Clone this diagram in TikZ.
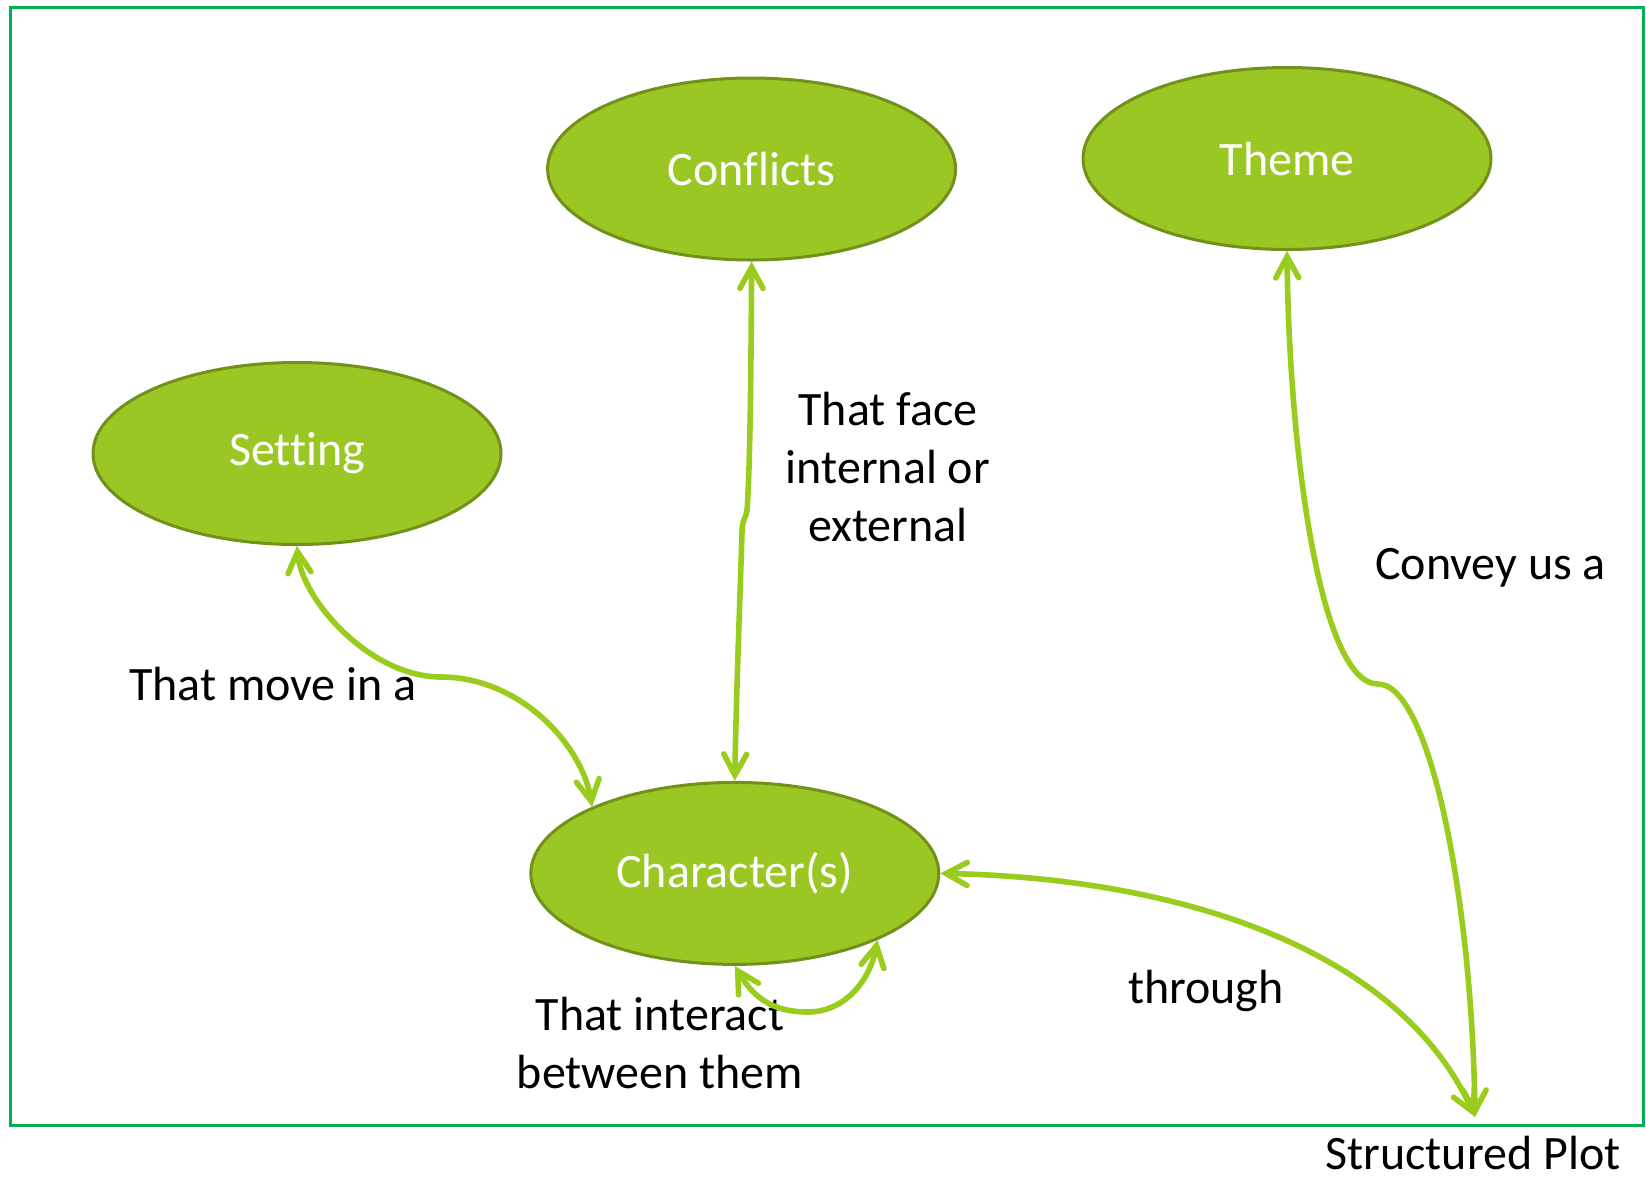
\documentclass[tikz,border=0pt]{standalone}
\usepackage{fontspec}
\setmainfont[RawFeature={-liga,-clig,-dlig}]{Carlito}
\usetikzlibrary{shapes.geometric,arrows.meta}
\definecolor{bubblefill}{RGB}{154,199,35}
\definecolor{bubbleline}{RGB}{114,145,26}
\definecolor{linkgreen}{RGB}{154,204,30}
\definecolor{framegreen}{RGB}{0,176,80}
\tikzset{
  bubble/.style={ellipse, draw=bubbleline, line width=1.5pt, fill=bubblefill,
    minimum width=204pt, minimum height=91pt, inner sep=0pt,
    text=white, font=\fontsize{24}{29}\selectfont},
  caption/.style={align=center, inner sep=0pt, text=black,
    font=\fontsize{24}{29}\selectfont},
  link/.style={draw=linkgreen, line width=2.8pt, line cap=round,
    {Straight Barb[length=10.5pt,width=11.5pt,line cap=round]}-{Straight Barb[length=10.5pt,width=11.5pt,line cap=round]}}
}
\begin{document}
\begin{tikzpicture}[x=0.5pt,y=-0.5pt]
  \useasboundingbox (0,0) rectangle (1646,1180);
  \draw[framegreen, line width=1.5pt] (10.5,7.5) rectangle (1643,1125);

  % concepts
  \node[bubble] (con) at (751.6,169) {Conflicts};
  \node[bubble] (thm) at (1287,158.5) {Theme};
  \node[bubble] (set) at (297,453.5) {Setting};
  \node[bubble] (chr) at (734.8,873.4) {Character(s)};

  % captions
  \node[caption] (face) at (888,467) {That face\\internal or\\external};
  \node[caption] (convey) at (1490.6,568) {Convey us a};
  \node[caption] (move) at (273,684) {That move in a};
  \node[caption] (inter) at (660,1043) {That interact\\between them};
  \node[caption] (through) at (1206,991) {through};
  \node[caption] (plot) at (1473,1153) {Structured Plot};
  \coordinate (plottop) at (1475,1117);

  % connectors
  \draw[link] (set.south) .. controls (302,600) and (370,677) .. (441,677)
     .. controls (520,677) and (582,745) .. (chr.155);
  \draw[link] (con.south) .. controls (751,380) and (750,470) .. (747,510)
     .. controls (746,518) and (742,520) .. (742,532)
     .. controls (740,600) and (736,700) .. (chr.north);
  \draw[link] (thm.south) .. controls (1289,450) and (1320,684) .. (1378,684)
     .. controls (1430,684) and (1472,900) .. (plottop);
  \draw[link] (chr.east) .. controls (1180,878) and (1400,950) .. (plottop);
  \draw[link] (chr.south) .. controls (755,1000) and (775,1012) .. (808,1012)
     .. controls (845,1012) and (870,980) .. (chr.-25);
\end{tikzpicture}
\end{document}
